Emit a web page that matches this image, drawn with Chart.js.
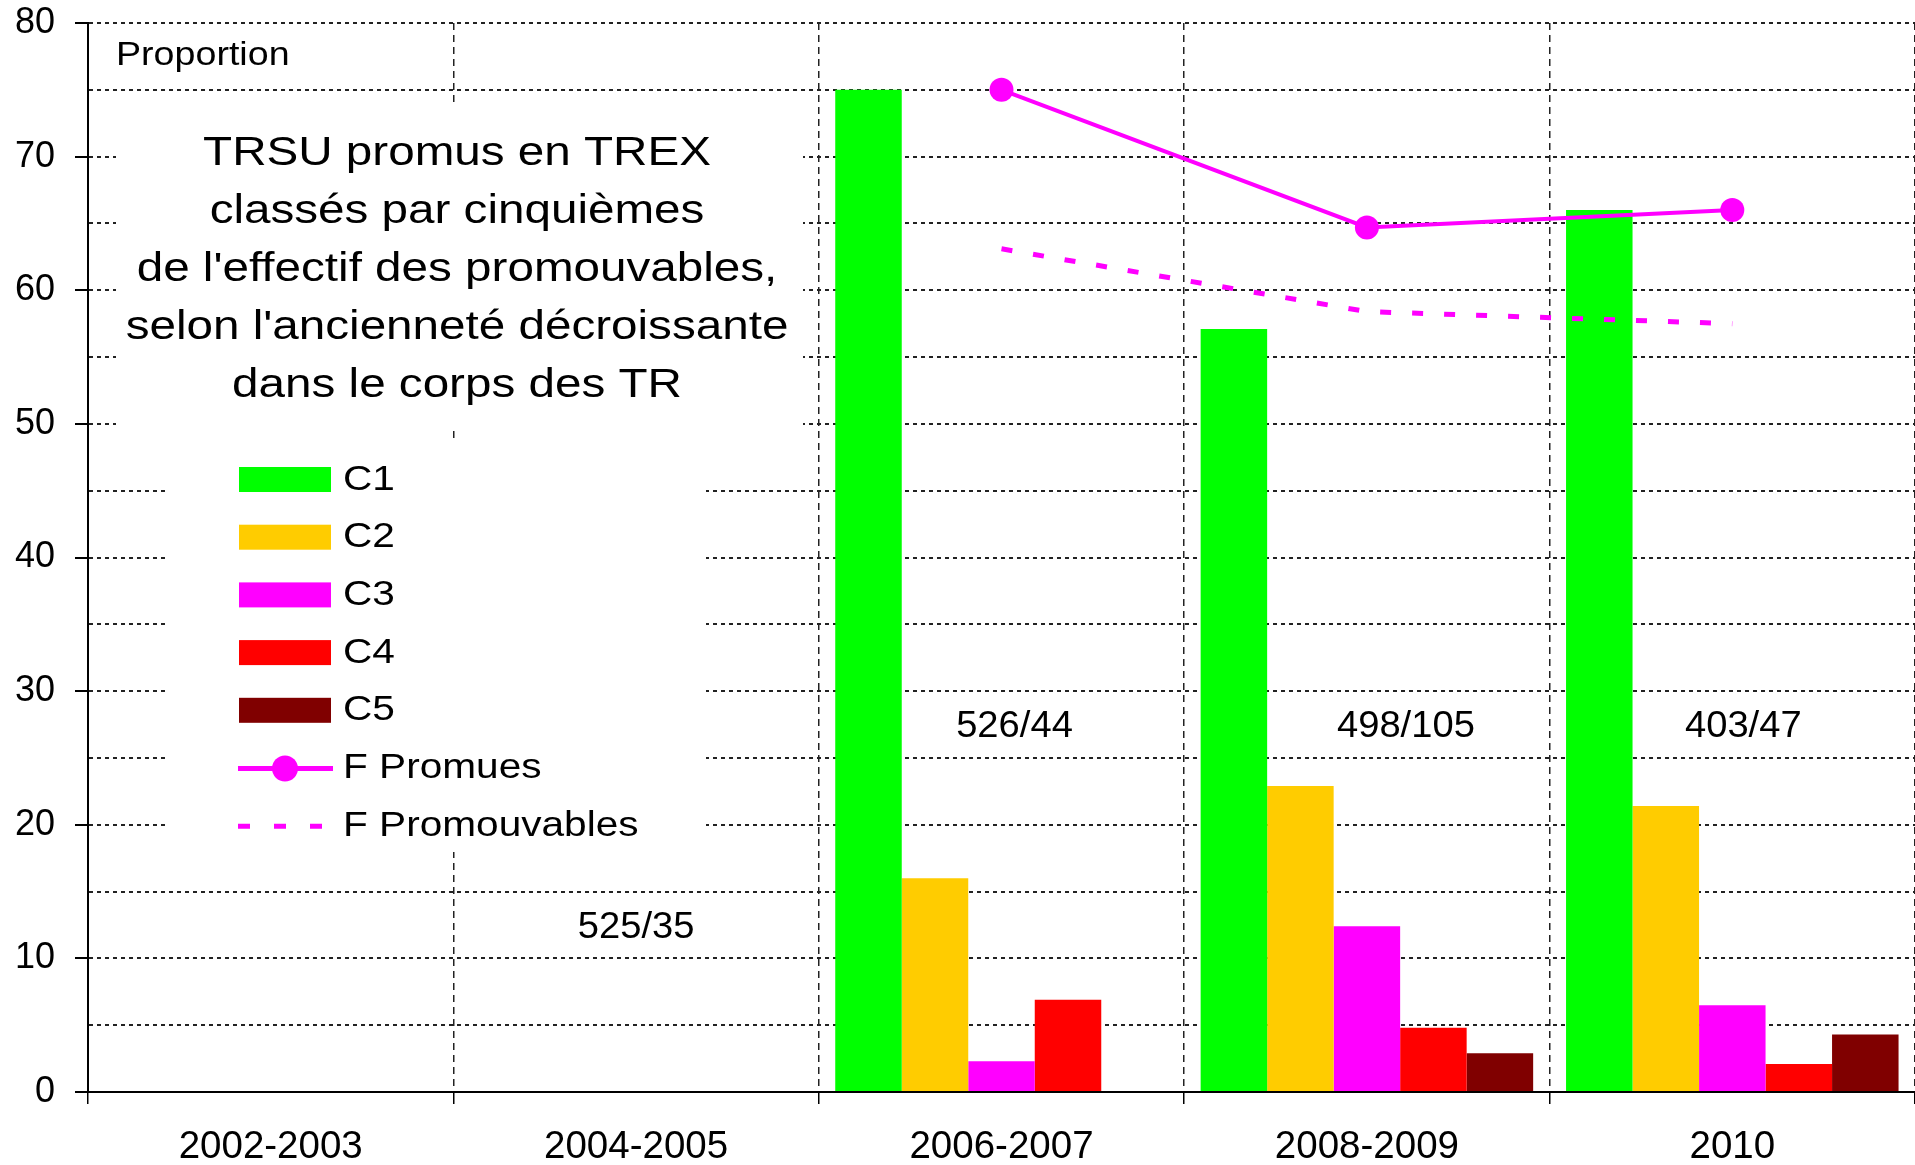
<!DOCTYPE html>
<html>
<head>
<meta charset="utf-8">
<script src="https://cdn.jsdelivr.net/npm/chart.js@4.4.1/dist/chart.umd.min.js"></script>
<style>
  html, body { margin: 0; padding: 0; background: #fff; }
  #wrap { width: 1915px; height: 1165px; }
</style>
</head>
<body>
<div id="wrap"><canvas id="c"></canvas></div>
<script>
// values (percent)
const periods = ['2002-2003', '2004-2005', '2006-2007', '2008-2009', '2010'];
const c1 = [null, null, 75.0, 57.1, 66.0];
const c2 = [null, null, 16.0, 22.9, 21.4];
const c3 = [null, null, 2.3, 12.4, 6.5];
const c4 = [null, null, 6.9, 4.8, 2.1];
const c5 = [null, null, 0, 2.9, 4.3];
const fPromues = [null, null, 75.0, 64.7, 66.0];
const fPromouvables = [null, null, 63.1, 58.4, 57.5];
const ratios = ['', '525/35', '526/44', '498/105', '403/47'];
const ratioAt = [0, 12.3, 27.3, 27.3, 27.3];
const titleLines = [
  'TRSU promus en TREX',
  'classés par cinquièmes',
  "de l'effectif des promouvables,",
  "selon l'ancienneté décroissante",
  'dans le corps des TR'
];

const FONT = "'Liberation Sans', Arial, sans-serif";
Chart.defaults.font.family = FONT;
Chart.defaults.color = '#000';

// text a bit wider than Arial, like the original rendering
function wideText(ctx, text, x, y, sx, align) {
  ctx.save();
  ctx.translate(x, y);
  ctx.scale(sx, 1);
  ctx.textAlign = align;
  ctx.fillText(text, 0, 0);
  ctx.restore();
}

const overlay = {
  id: 'overlay',
  beforeDatasetsDraw(chart) {
    const ctx = chart.ctx;
    ctx.save();
    // white boxes hide the grid behind the title and legend
    ctx.fillStyle = '#fff';
    ctx.fillRect(116, 107, 687, 323);
    ctx.fillRect(165, 440, 541, 412);

    ctx.fillStyle = '#000';
    ctx.textBaseline = 'middle';
    ctx.font = '33px ' + FONT;
    wideText(ctx, 'Proportion', 116, 56, 1.14, 'left');

    ctx.font = '40px ' + FONT;
    titleLines.forEach((t, i) => wideText(ctx, t, 457, 154 + i * 58, 1.19, 'center'));

    // legend
    ctx.font = '35px ' + FONT;
    chart.data.datasets.forEach((ds, i) => {
      const y = 480 + i * 57.7;
      if (ds.type === 'line') {
        ctx.save();
        ctx.strokeStyle = ds.borderColor;
        ctx.lineWidth = 5;
        ctx.setLineDash(ds.borderDash ? [12, 24] : []);
        ctx.beginPath();
        ctx.moveTo(238, y);
        ctx.lineTo(ds.borderDash ? 322 : 333, y);
        ctx.stroke();
        if (ds.pointRadius) {
          ctx.fillStyle = ds.borderColor;
          ctx.beginPath();
          ctx.arc(285, y, 13, 0, Math.PI * 2);
          ctx.fill();
        }
        ctx.restore();
      } else {
        ctx.fillStyle = ds.backgroundColor;
        ctx.fillRect(239, y - 13, 92, 25);
      }
      ctx.fillStyle = '#000';
      wideText(ctx, ds.label, 343, y, 1.16, 'left');
    });
    ctx.restore();
  },
  afterDatasetsDraw(chart) {
    const ctx = chart.ctx;
    const xs = chart.scales.x, ys = chart.scales.y;
    const shift = [0, 0, 13, 39, 11];
    ctx.save();
    ctx.fillStyle = '#000';
    ctx.textBaseline = 'middle';
    ctx.font = '36px ' + FONT;
    ratios.forEach((r, i) => {
      if (!r) return;
      wideText(ctx, r, xs.getPixelForValue(i) + shift[i], ys.getPixelForValue(ratioAt[i]), 1.06, 'center');
    });
    ctx.restore();
  }
};

function bar(label, data, color) {
  return { type: 'bar', label, data, backgroundColor: color, borderWidth: 0, order: 1,
           categoryPercentage: 0.91, barPercentage: 1.0 };
}

new Chart(document.getElementById('c'), {
  data: {
    labels: periods,
    datasets: [
      bar('C1', c1, '#00ff00'),
      bar('C2', c2, '#ffcc00'),
      bar('C3', c3, '#ff00ff'),
      bar('C4', c4, '#ff0000'),
      bar('C5', c5, '#800000'),
      { type: 'line', label: 'F Promues', data: fPromues, borderColor: '#ff00ff',
        backgroundColor: '#ff00ff', borderWidth: 4, pointRadius: 12, pointHoverRadius: 12,
        pointBorderWidth: 0, order: 0 },
      { type: 'line', label: 'F Promouvables', data: fPromouvables, borderColor: '#ff00ff',
        borderWidth: 5, borderDash: [11, 21], pointRadius: 0, pointHoverRadius: 0, order: 0 }
    ]
  },
  options: {
    responsive: true,
    maintainAspectRatio: false,
    devicePixelRatio: 1,
    animation: false,
    layout: { autoPadding: false, padding: { top: 23, right: 0, left: 0, bottom: 0 } },
    plugins: { legend: { display: false }, tooltip: { enabled: false } },
    scales: {
      x: {
        offset: true,
        grid: { offset: true, color: '#222', lineWidth: 1.5, tickLength: 12, tickColor: '#000', tickWidth: 1.5 },
        border: { display: true, color: '#000', width: 2, dash: [7, 5] },
        ticks: { font: { size: 38.5 }, color: '#000', padding: 20, maxRotation: 0 },
        afterFit(s) { s.height = 73; s.paddingLeft = 0; s.paddingRight = 0; }
      },
      y: {
        min: 0, max: 80,
        grid: {
          color: '#222', lineWidth: 2, tickLength: 13, tickWidth: 2,
          tickColor: c => (c.tick && c.tick.value % 10 === 0) ? '#000' : 'rgba(0,0,0,0)'
        },
        border: { display: true, color: '#000', width: 2, dash: [4, 4] },
        ticks: { stepSize: 5, font: { size: 36 }, color: '#000', padding: 20,
                 callback: v => (v % 10 === 0 ? v : '') },
        afterFit(s) { s.width = 88; s.paddingTop = 0; s.paddingBottom = 0; }
      }
    }
  },
  plugins: [overlay]
});
</script>
</body>
</html>
